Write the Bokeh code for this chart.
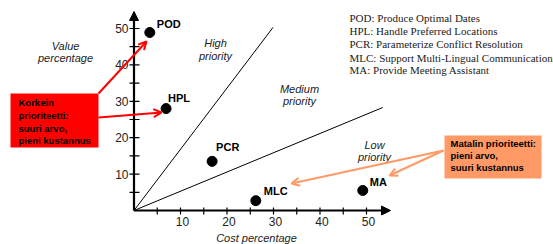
from bokeh.plotting import figure
from bokeh.models import Range1d, Arrow, OpenHead, NormalHead, ColumnDataSource
from bokeh.core.properties import value
from bokeh.embed import file_html
from bokeh.resources import INLINE

# ---- data ----
names = ["POD", "HPL", "PCR", "MLC", "MA"]
cost = [3.4, 6.9, 16.8, 26.2, 49.2]
val = [48.9, 28.0, 13.5, 2.7, 5.5]
x_ticks = [10, 20, 30, 40, 50]
y_ticks = [10, 20, 30, 40, 50]
minor_ticks = [5, 10, 15, 20, 25, 30, 35, 40, 45, 50]
boundary_x_end = [29.9, 53.5]
boundary_y_end = [50.3, 28.3]
legend_lines = [
    "POD:  Produce Optimal Dates",
    "HPL: Handle Preferred Locations",
    "PCR: Parameterize Conflict Resolution",
    "MLC: Support Multi-Lingual Communication",
    "MA:  Provide Meeting Assistant",
]
high_box_lines = ["Korkein", "prioriteetti:", "suuri arvo,", "pieni kustannus"]
low_box_lines = ["Matalin prioriteetti:", "pieni arvo,", "suuri kustannus"]

# ---- pixel helpers (picture px -> data) ----
OX, OY, SX, SY = 133.5, 210.0, 4.65, 3.64
def X(px):
    return (px - OX) / SX
def Y(py):
    return (OY - py) / SY

W, H = 553, 244
p = figure(width=W, height=H, output_backend="svg", toolbar_location=None,
           x_range=Range1d(X(0), X(W)), y_range=Range1d(Y(H), Y(0)),
           x_axis_type=None, y_axis_type=None, min_border=0)
p.grid.visible = False
p.outline_line_color = None
p.background_fill_color = "white"

SANS = value("Liberation Sans")
SERIF = value("Liberation Serif")

# priority boundary lines
p.segment(x0=[0, 0], y0=[0, 0], x1=boundary_x_end, y1=boundary_y_end,
          line_color="black", line_width=1)

# axes
p.add_layout(Arrow(end=NormalHead(size=9, fill_color="black", line_color="black"),
                   x_start=0, y_start=0, x_end=X(390), y_end=0,
                   line_color="black", line_width=2.2))
p.add_layout(Arrow(end=NormalHead(size=9, fill_color="black", line_color="black"),
                   x_start=0, y_start=0, x_end=0, y_end=Y(11),
                   line_color="black", line_width=2.2))
# tick marks
p.segment(x0=minor_ticks, y0=[Y(207)] * len(minor_ticks), x1=minor_ticks,
          y1=[Y(214)] * len(minor_ticks), line_color="black", line_width=1.2)
p.segment(x0=[X(129)] * len(minor_ticks), y0=minor_ticks,
          x1=[X(139)] * len(minor_ticks), y1=minor_ticks,
          line_color="black", line_width=1.2)
# tick labels
p.text(x=x_ticks, y=[Y(221)] * len(x_ticks), text=[str(t) for t in x_ticks],
       x_offset=2, text_align="center", text_baseline="middle", text_font=SANS,
       text_font_size="12px", text_color="#222222")
p.text(x=[X(128)] * len(y_ticks), y=y_ticks, text=[str(t) for t in y_ticks],
       text_align="right", text_baseline="middle", text_font=SANS,
       text_font_size="12px", text_color="#222222")

# axis titles and region labels (italic)
ital = dict(text_align="center", text_baseline="middle", text_font=SANS,
            text_font_size="11px", text_font_style="italic", text_color="#222222")
p.text(x=[X(65), X(65)], y=[Y(45), Y(57)], text=["Value", "percentage"], **ital)
p.text(x=[X(256)], y=[Y(237)], text=["Cost percentage"], **ital)
p.text(x=[X(215), X(215)], y=[Y(42), Y(55)], text=["High", "priority"], **ital)
p.text(x=[X(299), X(299)], y=[Y(88), Y(100)], text=["Medium", "priority"], **ital)
p.text(x=[X(374), X(374)], y=[Y(144), Y(156)], text=["Low", "priority"], **ital)

# points
src = ColumnDataSource(dict(x=cost, y=val, name=names,
                            dx=[7, 2, 4, 8, 7], dy=[-9, -11, -14, -10, -8]))
p.scatter(x="x", y="y", source=src, size=10, color="black")
p.text(x="x", y="y", text="name", source=src, x_offset="dx", y_offset="dy",
       text_align="left", text_baseline="middle", text_font=SANS,
       text_font_size="11px", text_font_style="bold", text_color="black")

# legend text
p.text(x=[X(349)] * len(legend_lines),
       y=[Y(17), Y(30), Y(43), Y(57), Y(69)], text=legend_lines,
       text_align="left", text_baseline="middle", text_font=SERIF,
       text_font_size="11px", text_color="#222222")

# red box
p.quad(left=X(10), right=X(98), top=Y(93), bottom=Y(147),
       fill_color="#FF0000", line_color=None)
p.text(x=[X(18)] * 4, y=[Y(102), Y(115), Y(128), Y(140)], text=high_box_lines,
       text_align="left", text_baseline="middle", text_font=SANS,
       text_font_size="9.5px", text_font_style="bold", text_color="black")
for (xs, ys, xe, ye) in [(98, 93, 146, 41), (98, 117, 161, 112)]:
    p.add_layout(Arrow(end=OpenHead(size=8, line_color="#FF0000", line_width=2),
                       x_start=X(xs), y_start=Y(ys), x_end=X(xe), y_end=Y(ye),
                       line_color="#FF0000", line_width=2))

# orange box
ORANGE = "#FF9966"
p.quad(left=X(444), right=X(541), top=Y(135), bottom=Y(178),
       fill_color=ORANGE, line_color=None)
p.text(x=[X(450)] * 3, y=[Y(143), Y(155), Y(167)], text=low_box_lines,
       text_align="left", text_baseline="middle", text_font=SANS,
       text_font_size="9.5px", text_font_style="bold", text_color="black")
for (xs, ys, xe, ye) in [(443, 150, 291, 183), (443, 150, 389, 175)]:
    p.add_layout(Arrow(end=OpenHead(size=8, line_color=ORANGE, line_width=2),
                       x_start=X(xs), y_start=Y(ys), x_end=X(xe), y_end=Y(ye),
                       line_color=ORANGE, line_width=2))

open("out.html", "w").write(file_html(p, INLINE))
